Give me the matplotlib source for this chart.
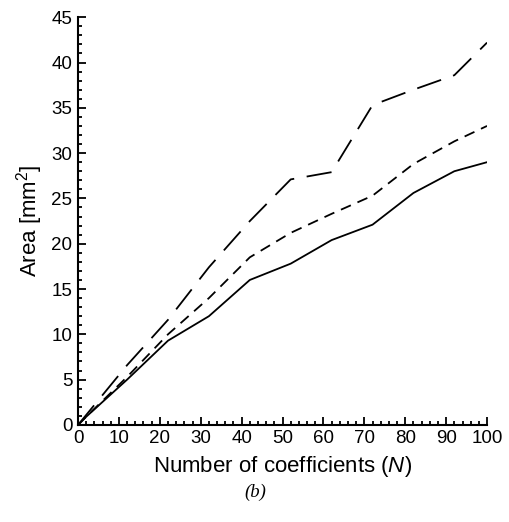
import numpy as np
import matplotlib.pyplot as plt
from matplotlib.ticker import MultipleLocator

plt.rcParams['font.family'] = ['Liberation Sans', 'DejaVu Sans']
plt.rcParams['mathtext.fontset'] = 'custom'
plt.rcParams['mathtext.rm'] = 'Liberation Sans'
plt.rcParams['mathtext.it'] = 'Liberation Sans:italic'

n = [0, 2, 12, 22, 32, 42, 52, 62, 72, 82, 92, 100]
area_solid = [0, 0.9, 5.0, 9.3, 12.0, 16.0, 17.8, 20.4, 22.1, 25.6, 28.0, 29.0]
area_short = [0, 0.9, 5.3, 10.0, 14.0, 18.5, 21.2, 23.3, 25.3, 28.8, 31.3, 33.0]
area_long = [0, 1.1, 6.6, 11.6, 17.4, 22.5, 27.1, 27.9, 35.3, 37.0, 38.6, 42.2]

fig = plt.figure(figsize=(5.1, 5.22), dpi=100)
ax = fig.add_axes([0.153, 0.186, 0.802, 0.781])

ax.plot(n, area_solid, color='black', lw=1.3)
ax.plot(n, area_short, color='black', lw=1.3, dashes=(6, 4))
ax.plot(n, area_long, color='black', lw=1.3, dashes=(14, 7))

ax.set_xlim(0, 100)
ax.set_ylim(0, 45)
ax.xaxis.set_major_locator(MultipleLocator(10))
ax.xaxis.set_minor_locator(MultipleLocator(2))
ax.yaxis.set_major_locator(MultipleLocator(5))
ax.yaxis.set_minor_locator(MultipleLocator(1))
ax.tick_params(which='both', direction='in', width=1.3, labelsize=13.5)
ax.tick_params(axis='x', which='major', pad=4)
ax.tick_params(axis='y', which='major', pad=4)
ax.tick_params(which='major', length=6)
ax.tick_params(which='minor', length=3)
ax.spines['top'].set_visible(False)
ax.spines['right'].set_visible(False)
ax.spines['left'].set_linewidth(1.5)
ax.spines['bottom'].set_linewidth(1.5)

ax.set_xlabel('Number of coefficients ($N$)', fontsize=16, labelpad=5)
ax.set_ylabel('Area [mm$^2$]', fontsize=16, labelpad=5)
fig.text(0.5, 0.048, '(b)', ha='center', fontsize=13.5, family='Liberation Serif', style='italic')

fig.savefig('out.png', dpi=100)
